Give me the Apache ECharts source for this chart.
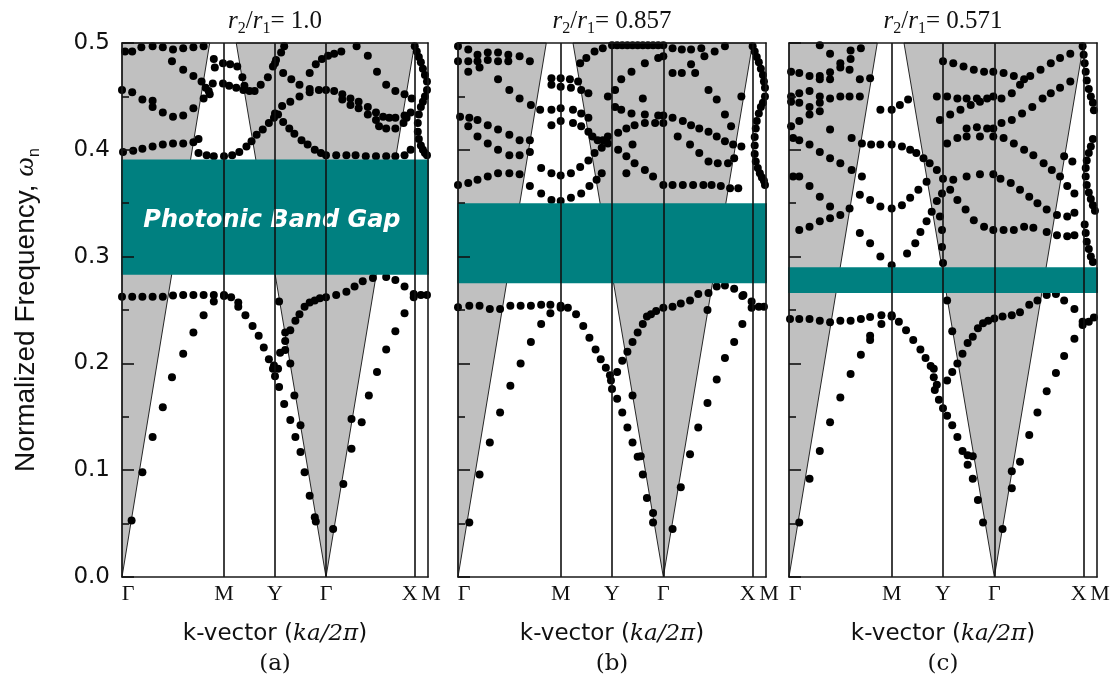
<!DOCTYPE html>
<html><head><meta charset="utf-8">
<script src="https://cdn.jsdelivr.net/npm/echarts@6/dist/echarts.min.js"></script>
<style>html,body{margin:0;padding:0;background:#fff}#c{width:1116px;height:686px}</style>
</head><body><div id="c"></div><script>
// ---------- axes / labels ----------
const kTickValues = [0, 1, 1.5, 2, 2.87, 3];
const kTickLabels = ['Γ', 'M', 'Y', 'Γ', 'X', 'M'];
const symmetryLines = [1, 1.5, 2, 2.87];
const ratioLabels = ['1.0', '0.857', '0.571'];
const panelLetters = ['(a)', '(b)', '(c)'];
const gapLow = [0.283, 0.275, 0.266];
const gapHigh = [0.391, 0.350, 0.290];
const gapText = ['Photonic Band Gap', '', ''];
const gapTextPos = [1.47, 0.334];
// light cone polygons (k-path units, normalized frequency)
const lightConeLeft = [[0, 0], [0.86, 0.5], [0, 0.5]];
const lightConeMid = [[2, 0], [1.12, 0.5], [2.87, 0.5]];

// ---------- panel (a) r2/r1 = 1.0 ----------
const a_low1 = [[0.094,0.053],[0.2,0.098],[0.3,0.131],[0.4,0.159],[0.49,0.187],[0.6,0.209],[0.7,0.229],[0.8,0.245],[0.9,0.258],[1.0,0.263],[1.07,0.262],[1.14,0.253],[1.21,0.245],[1.28,0.235],[1.34,0.226],[1.39,0.215],[1.44,0.204],[1.48,0.195],[1.5,0.188],[1.54,0.178],[1.59,0.162],[1.65,0.147],[1.7,0.131],[1.75,0.117],[1.79,0.098],[1.84,0.076],[1.89,0.056],[1.9,0.052],[2.07,0.045],[2.17,0.087],[2.25,0.12],[2.25,0.148],[2.35,0.145],[2.42,0.17],[2.5,0.192],[2.59,0.213],[2.68,0.23],[2.77,0.247],[2.86,0.262],[2.93,0.264],[2.99,0.264]];
const a_low2 = [[0,0.2625],[0.1,0.2625],[0.2,0.2625],[0.3,0.2625],[0.4,0.2625],[0.5,0.2635],[0.6,0.264],[0.7,0.264],[0.8,0.264],[0.9,0.264],[1.0,0.264],[1.14,0.257],[1.55,0.21],[1.6,0.221],[1.65,0.231],[1.7,0.24],[1.74,0.246],[1.79,0.253],[1.84,0.257],[1.89,0.259],[1.94,0.261],[2.0,0.262],[2.1,0.264],[2.2,0.267],[2.28,0.272],[2.36,0.277],[2.46,0.28],[2.59,0.281],[2.68,0.278],[2.77,0.272],[2.86,0.265]];
const a_low3 = [[1.54,0.258],[1.6,0.229],[1.6,0.2125],[1.65,0.2],[1.69,0.17],[1.75,0.142],[1.49,0.198],[1.53,0.195]];
const a_up1 = [[0.03,0.492],[0.1,0.492],[0.19,0.496],[0.3,0.497],[0.4,0.496],[0.5,0.494],[0.6,0.495],[0.7,0.496],[0.8,0.497]];
const a_up2 = [[0.49,0.483],[0.6,0.475],[0.7,0.469],[0.78,0.464],[0.82,0.458],[0.86,0.452]];
const a_up3 = [[0.0,0.456],[0.1,0.454],[0.2,0.447],[0.3,0.446],[0.3,0.44],[0.4,0.435],[0.5,0.431],[0.6,0.432],[0.7,0.439],[0.8,0.448],[0.85,0.455]];
const a_up4 = [[0.01,0.398],[0.11,0.399],[0.2,0.401],[0.3,0.403],[0.4,0.405],[0.5,0.406],[0.6,0.406],[0.7,0.407],[0.75,0.41]];
const a_up5 = [[0.75,0.397],[0.83,0.395],[0.9,0.394],[1.0,0.394],[1.08,0.395],[1.15,0.398],[1.22,0.403],[1.27,0.408],[1.32,0.414],[1.38,0.419],[1.44,0.425],[1.49,0.43]];
const a_up6 = [[1.5,0.434],[1.57,0.441],[1.65,0.445],[1.74,0.45],[1.84,0.454],[1.93,0.456],[2.0,0.456]];
const a_up7 = [[1.53,0.433],[1.58,0.426],[1.64,0.42],[1.69,0.415],[1.76,0.409],[1.82,0.405],[1.89,0.4],[1.95,0.397],[2.0,0.395]];
const a_up8 = [[2.1,0.395],[2.2,0.395],[2.29,0.395],[2.39,0.394],[2.49,0.394],[2.59,0.394],[2.68,0.394],[2.77,0.395],[2.83,0.4]];
const a_up9 = [[1.5,0.481],[1.58,0.472],[1.66,0.466],[1.74,0.461],[1.84,0.457]];
const a_up10 = [[2.08,0.455],[2.16,0.452],[2.24,0.448],[2.32,0.445],[2.41,0.44],[2.49,0.435],[2.56,0.431],[2.62,0.43],[2.68,0.43],[2.77,0.432],[2.83,0.435]];
const a_up11 = [[2.16,0.447],[2.24,0.442],[2.32,0.439],[2.41,0.433],[2.49,0.428],[2.52,0.422],[2.59,0.42],[2.68,0.42],[2.76,0.425],[2.79,0.43]];
const a_up12 = [[2.3,0.497],[2.41,0.488],[2.5,0.473],[2.59,0.461],[2.68,0.455],[2.77,0.452],[2.84,0.448]];
const a_up13 = [[1.3,0.455],[1.36,0.461],[1.43,0.468],[1.48,0.478],[1.51,0.484],[1.56,0.491],[1.59,0.497]];
const a_up14 = [[0.9,0.485],[0.91,0.477],[0.99,0.481],[1.06,0.48],[1.13,0.478],[1.18,0.468],[1.2,0.46]];
const a_up15 = [[0.89,0.462],[0.99,0.462],[1.05,0.46],[1.12,0.458],[1.19,0.456],[1.25,0.455]];
const a_up16 = [[1.84,0.472],[1.9,0.48],[1.96,0.485],[2.02,0.488],[2.08,0.49],[2.15,0.492]];
const a_up17 = [[2.87,0.497],[2.89,0.492],[2.91,0.487],[2.93,0.482],[2.95,0.476],[2.97,0.47],[2.99,0.464],[2.99,0.456],[2.97,0.45],[2.95,0.445],[2.93,0.44],[2.91,0.433],[2.9,0.425],[2.9,0.417],[2.91,0.41],[2.93,0.404],[2.95,0.4],[2.97,0.397],[2.99,0.395]];
const panelA = [a_low1, a_low2, a_low3, a_up1, a_up2, a_up3, a_up4, a_up5, a_up6, a_up7, a_up8, a_up9, a_up10, a_up11, a_up12, a_up13, a_up14, a_up15, a_up16, a_up17];

// ---------- panel (b) r2/r1 = 0.857 ----------
const b_low1 = [[0.11,0.051],[0.21,0.096],[0.31,0.126],[0.41,0.154],[0.51,0.179],[0.61,0.2],[0.71,0.22],[0.81,0.237],[0.9,0.247],[1.0,0.252],[1.07,0.252],[1.15,0.246],[1.22,0.235],[1.28,0.224],[1.34,0.213],[1.39,0.204],[1.44,0.196],[1.48,0.189],[1.49,0.184],[1.5,0.176],[1.55,0.167],[1.6,0.154],[1.65,0.14],[1.7,0.126],[1.75,0.1125],[1.8,0.096],[1.84,0.074],[1.9,0.06],[1.9,0.051],[2.09,0.045],[2.17,0.084],[2.26,0.115],[2.34,0.14],[2.43,0.163],[2.52,0.185],[2.6,0.205],[2.69,0.22],[2.77,0.237],[2.86,0.252],[2.93,0.253],[2.98,0.253]];
const b_low2 = [[0,0.2525],[0.11,0.254],[0.21,0.254],[0.31,0.251],[0.41,0.251],[0.51,0.254],[0.61,0.254],[0.71,0.254],[0.81,0.255],[0.9,0.255],[1.0,0.254],[1.55,0.192],[1.6,0.2025],[1.65,0.211],[1.7,0.22],[1.75,0.229],[1.8,0.237],[1.84,0.244],[1.88,0.246],[1.93,0.249],[2.0,0.252],[2.09,0.253],[2.17,0.256],[2.26,0.259],[2.34,0.265],[2.44,0.266],[2.52,0.272],[2.6,0.273],[2.69,0.27],[2.78,0.264],[2.86,0.258]];
const b_low3 = [[1.7,0.17],[1.78,0.113],[2.43,0.25],[2.77,0.263]];
const b_up1 = [[0,0.497],[0.1,0.494],[0.19,0.489],[0.29,0.491],[0.39,0.491],[0.49,0.489],[0.6,0.4875],[0.7,0.483]];
const b_up2 = [[0,0.483],[0.1,0.483],[0.19,0.483],[0.29,0.484],[0.39,0.483],[0.49,0.483]];
const b_up3 = [[0.1,0.473],[0.21,0.477],[0.39,0.466],[0.5,0.456],[0.6,0.448],[0.71,0.442],[0.8,0.4375],[0.91,0.4375],[1.0,0.439],[1.12,0.4375],[1.2,0.434],[1.27,0.43]];
const b_up4 = [[0.02,0.431],[0.11,0.43],[0.19,0.428],[0.29,0.423],[0.39,0.419],[0.5,0.414],[0.6,0.409],[0.7,0.409]];
const b_up5 = [[0.1,0.422],[0.19,0.4125],[0.29,0.406],[0.39,0.4],[0.5,0.395],[0.6,0.395],[0.7,0.398]];
const b_up6 = [[0,0.367],[0.1,0.369],[0.19,0.372],[0.29,0.375],[0.39,0.378],[0.5,0.378],[0.6,0.377]];
const b_up7 = [[0.7,0.366],[0.81,0.359],[0.91,0.353],[1.0,0.352],[1.1,0.355],[1.2,0.359],[1.28,0.366],[1.35,0.372],[1.4,0.378]];
const b_up8 = [[0.81,0.383],[0.91,0.378],[1.0,0.376],[1.1,0.378],[1.19,0.384],[1.27,0.39],[1.33,0.397],[1.4,0.402],[1.46,0.406]];
const b_up9 = [[0.91,0.423],[1.0,0.427],[1.12,0.425],[1.2,0.422],[1.27,0.417],[1.31,0.4125],[1.36,0.409],[1.41,0.409],[1.46,0.4125]];
const b_up10 = [[0.91,0.461],[1.0,0.459],[1.1,0.458],[1.2,0.456],[1.27,0.453]];
const b_up11 = [[0.91,0.467],[1.0,0.467],[1.09,0.466],[1.17,0.464]];
const b_up12 = [[1.56,0.416],[1.64,0.42],[1.72,0.423],[1.82,0.425],[1.92,0.425],[2.0,0.425]];
const b_up13 = [[1.56,0.4],[1.64,0.394],[1.72,0.3875],[1.82,0.381],[1.9,0.375],[2.0,0.367]];
const b_up14 = [[1.46,0.45],[1.53,0.456],[1.59,0.466],[1.69,0.473],[1.82,0.481],[1.95,0.486],[2.0,0.4875]];
const b_up15 = [[1.53,0.44],[1.59,0.4375],[1.69,0.434],[1.82,0.433],[1.95,0.432],[2.0,0.432]];
const b_up16 = [[1.5,0.498],[1.55,0.498],[1.6,0.498],[1.65,0.498],[1.7,0.498],[1.75,0.498],[1.8,0.498],[1.85,0.498],[1.9,0.498],[1.95,0.498],[2.0,0.498]];
const b_up17 = [[1.19,0.481],[1.25,0.486],[1.33,0.492],[1.41,0.495]];
const b_up18 = [[2.09,0.367],[2.19,0.367],[2.29,0.367],[2.39,0.367],[2.47,0.367],[2.56,0.366],[2.65,0.364],[2.73,0.364]];
const b_up19 = [[2.14,0.4125],[2.26,0.405],[2.35,0.397],[2.44,0.389],[2.53,0.3875],[2.63,0.3875],[2.69,0.392]];
const b_up20 = [[2.09,0.43],[2.19,0.427],[2.27,0.423],[2.35,0.42],[2.44,0.417],[2.52,0.4125],[2.6,0.408],[2.68,0.405],[2.76,0.403]];
const b_up21 = [[2.09,0.472],[2.18,0.472],[2.27,0.48],[2.4,0.4875],[2.5,0.492],[2.6,0.497]];
const b_up22 = [[2.09,0.495],[2.18,0.494],[2.27,0.494],[2.37,0.495]];
const b_up23 = [[2.31,0.472],[2.44,0.456],[2.52,0.447],[2.6,0.433],[2.66,0.422]];
const b_up24 = [[2.87,0.497],[2.89,0.492],[2.91,0.487],[2.93,0.482],[2.95,0.476],[2.97,0.47],[2.98,0.464],[2.99,0.458],[2.99,0.45],[2.97,0.444],[2.95,0.44],[2.93,0.434],[2.91,0.427],[2.9,0.42],[2.89,0.412],[2.89,0.404],[2.89,0.396],[2.9,0.389],[2.92,0.383],[2.94,0.378],[2.96,0.374],[2.98,0.371],[2.99,0.367]];
const b_up25 = [[1.64,0.378],[1.7,0.405],[1.8,0.448],[2.76,0.45]];
const panelB = [b_low1, b_low2, b_low3, b_up1, b_up2, b_up3, b_up4, b_up5, b_up6, b_up7, b_up8, b_up9, b_up10, b_up11, b_up12, b_up13, b_up14, b_up15, b_up16, b_up17, b_up18, b_up19, b_up20, b_up21, b_up22, b_up23, b_up24, b_up25];

// ---------- panel (c) r2/r1 = 0.571 ----------
const c_low1 = [[0.1,0.051],[0.2,0.092],[0.3,0.118],[0.4,0.145],[0.5,0.168],[0.6,0.19],[0.7,0.208],[0.79,0.222],[0.79,0.226],[0.9,0.237],[1.0,0.244],[1.07,0.239],[1.14,0.231],[1.21,0.222],[1.28,0.213],[1.33,0.205],[1.38,0.1975],[1.41,0.187],[1.42,0.175],[1.46,0.166],[1.5,0.158],[1.54,0.151],[1.59,0.142],[1.64,0.131],[1.69,0.118],[1.74,0.105],[1.79,0.092],[1.84,0.072],[1.89,0.051],[2.08,0.045],[2.17,0.083],[2.17,0.099],[2.25,0.108],[2.34,0.133],[2.42,0.154],[2.51,0.174],[2.6,0.191],[2.68,0.207],[2.78,0.223],[2.86,0.236],[2.92,0.239],[2.97,0.243]];
const c_low2 = [[0.01,0.2415],[0.1,0.2415],[0.2,0.2415],[0.3,0.24],[0.4,0.2385],[0.5,0.24],[0.6,0.24],[0.7,0.2415],[0.79,0.2435],[0.9,0.245],[1.0,0.245],[1.54,0.184],[1.59,0.192],[1.64,0.2],[1.69,0.209],[1.74,0.219],[1.79,0.225],[1.84,0.233],[1.89,0.2375],[1.94,0.24],[2.0,0.242],[2.08,0.244],[2.17,0.245],[2.25,0.248],[2.34,0.255],[2.42,0.259],[2.51,0.264],[2.6,0.265],[2.68,0.259],[2.78,0.251],[2.86,0.239]];
const c_low3 = [[1.54,0.259],[1.59,0.23],[1.74,0.114],[1.79,0.113],[1.41,0.195],[1.44,0.18]];
const c_up1 = [[0.3,0.498],[0.4,0.49],[0.5,0.481],[0.6,0.485],[0.6,0.493],[0.7,0.495]];
const c_up2 = [[0.02,0.473],[0.1,0.472],[0.2,0.469],[0.3,0.469],[0.4,0.4725],[0.5,0.477]];
const c_up3 = [[0.3,0.466],[0.4,0.466],[0.59,0.475],[0.69,0.466],[0.79,0.467]];
const c_up4 = [[0.02,0.45],[0.1,0.453],[0.2,0.455],[0.3,0.45],[0.4,0.448],[0.5,0.45],[0.59,0.45],[0.69,0.45]];
const c_up5 = [[0.02,0.445],[0.1,0.444],[0.2,0.44],[0.3,0.444],[0.2,0.433],[0.3,0.436]];
const c_up6 = [[0.1,0.427],[0.02,0.422],[0.4,0.419]];
const c_up7 = [[0.04,0.411],[0.1,0.409],[0.2,0.405],[0.3,0.398],[0.4,0.392],[0.5,0.3875],[0.61,0.381],[0.71,0.375]];
const c_up8 = [[0.61,0.411],[0.71,0.406],[0.8,0.405],[0.89,0.405],[1.0,0.405],[1.1,0.403],[1.18,0.4],[1.24,0.397],[1.31,0.392],[1.37,0.3875],[1.44,0.381],[1.5,0.373]];
const c_up9 = [[0.04,0.375],[0.1,0.375],[0.2,0.366],[0.3,0.356],[0.4,0.347]];
const c_up10 = [[0.1,0.325],[0.2,0.328],[0.3,0.333],[0.4,0.336],[0.5,0.339],[0.59,0.345],[0.69,0.358]];
const c_up11 = [[0.79,0.353],[0.89,0.347],[1.0,0.345],[1.1,0.348],[1.18,0.355],[1.26,0.3625],[1.34,0.37]];
const c_up12 = [[0.69,0.322],[0.79,0.3125],[0.89,0.3],[1.0,0.292]];
const c_up13 = [[1.15,0.303],[1.23,0.3125],[1.28,0.323],[1.34,0.333],[1.39,0.342],[1.44,0.352],[1.49,0.359]];
const c_up14 = [[0.89,0.4375],[1.0,0.4375],[1.08,0.442],[1.16,0.447]];
const c_up15 = [[1.5,0.483],[1.6,0.481],[1.7,0.478],[1.8,0.475],[1.9,0.473],[1.99,0.473]];
const c_up16 = [[1.44,0.45],[1.54,0.45],[1.64,0.448],[1.73,0.448],[1.83,0.448],[1.93,0.448],[1.99,0.45]];
const c_up17 = [[1.47,0.428],[1.57,0.433],[1.67,0.4375],[1.77,0.442],[1.86,0.445]];
const c_up18 = [[1.73,0.42],[1.83,0.421],[1.93,0.42],[1.99,0.42]];
const c_up19 = [[1.54,0.406],[1.64,0.411],[1.73,0.4125],[1.86,0.4125],[1.99,0.4125]];
const c_up20 = [[1.6,0.372],[1.73,0.375],[1.86,0.377],[1.99,0.377]];
const c_up21 = [[1.57,0.3625],[1.64,0.353],[1.72,0.344],[1.8,0.334],[1.9,0.328],[1.99,0.325]];
const c_up22 = [[1.47,0.3375],[1.49,0.325],[1.49,0.309],[1.5,0.294]];
const c_up23 = [[2.09,0.325],[2.19,0.325],[2.29,0.328],[2.38,0.327],[2.51,0.323],[2.61,0.32],[2.71,0.319],[2.78,0.32]];
const c_up24 = [[2.06,0.373],[2.16,0.369],[2.25,0.3625],[2.34,0.356],[2.42,0.35],[2.51,0.344],[2.61,0.339],[2.71,0.3375],[2.78,0.341]];
const c_up25 = [[2.09,0.411],[2.19,0.406],[2.29,0.4],[2.38,0.395],[2.48,0.3875],[2.56,0.381],[2.64,0.375],[2.71,0.366],[2.78,0.359]];
const c_up26 = [[2.07,0.425],[2.17,0.428],[2.27,0.434],[2.37,0.44],[2.47,0.448],[2.55,0.453],[2.64,0.458],[2.74,0.464]];
const c_up27 = [[2.07,0.448],[2.17,0.453],[2.25,0.461],[2.35,0.469],[2.45,0.475],[2.55,0.481],[2.64,0.486],[2.74,0.49]];
const c_up28 = [[2.09,0.472],[2.19,0.469],[2.29,0.466],[2.68,0.394],[2.76,0.389]];
const c_up29 = [[2.86,0.497],[2.87,0.489],[2.88,0.481],[2.89,0.473],[2.9,0.465],[2.92,0.457],[2.94,0.45],[2.96,0.444],[2.97,0.437],[2.96,0.41],[2.94,0.403],[2.92,0.397],[2.9,0.39],[2.89,0.383],[2.89,0.375],[2.9,0.367],[2.92,0.36],[2.94,0.354],[2.96,0.348],[2.98,0.343],[2.88,0.33],[2.89,0.322],[2.9,0.314],[2.92,0.307],[2.94,0.3],[2.96,0.295]];
const panelC = [c_low1, c_low2, c_low3, c_up1, c_up2, c_up3, c_up4, c_up5, c_up6, c_up7, c_up8, c_up9, c_up10, c_up11, c_up12, c_up13, c_up14, c_up15, c_up16, c_up17, c_up18, c_up19, c_up20, c_up21, c_up22, c_up23, c_up24, c_up25, c_up26, c_up27, c_up28, c_up29];

const panels = [panelA, panelB, panelC];

// ---------- layout ----------
const gridLefts = [122, 458, 789];
const gridWidths = [306, 308, 308];
const serif = 'Liberation Serif';

const chart = echarts.init(document.getElementById('c'), null, {renderer: 'canvas'});
const grids = [], xAxes = [], yAxes = [], series = [];
const frameLine = () => ({show: true, onZero: false, lineStyle: {color: '#1a1a1a', width: 1.6}});

panels.forEach((bands, i) => {
  grids.push({left: gridLefts[i], width: gridWidths[i], top: 43, height: 534});
  xAxes.push({
    gridIndex: i, type: 'value', min: 0, max: 3, position: 'bottom', z: 10,
    axisLine: frameLine(), axisTick: {show: false}, splitLine: {show: false},
    axisLabel: {
      customValues: kTickValues, margin: 6, color: '#111',
      formatter: (v) => {
        const k = kTickValues.indexOf(v);
        const key = k === 0 ? 'f' : (k === 4 ? 'x' : (k === 5 ? 'l' : 'g'));
        return '{' + key + '|' + kTickLabels[k] + '}';
      },
      rich: {
        g: {fontFamily: serif, fontSize: 22, color: '#111'},
        f: {fontFamily: serif, fontSize: 22, color: '#111', padding: [0, 0, 0, 12]},
        x: {fontFamily: serif, fontSize: 22, color: '#111', padding: [0, 10, 0, 0]},
        l: {fontFamily: serif, fontSize: 22, color: '#111', padding: [0, 0, 0, 6]}
      }
    },
    name: '{n|k-vector (}{i|ka/2π}{n|)}\n{l|' + panelLetters[i] + '}',
    nameLocation: 'middle', nameGap: 43,
    nameTextStyle: {
      rich: {
        n: {fontFamily: 'DejaVu Sans', fontSize: 23, color: '#111', lineHeight: 28},
        i: {fontFamily: 'DejaVu Serif', fontStyle: 'italic', fontSize: 23, color: '#111', lineHeight: 28},
        l: {fontFamily: 'DejaVu Serif', fontSize: 23, color: '#111', lineHeight: 32}
      }
    }
  });
  xAxes.push({
    gridIndex: i, type: 'value', min: 0, max: 3, position: 'top', z: 10,
    axisLine: frameLine(), axisTick: {show: false}, axisLabel: {show: false}, splitLine: {show: false},
    name: '{r|r}{s|2}{n|/}{r|r}{s|1}{n|= ' + ratioLabels[i] + '}',
    nameLocation: 'middle', nameGap: 6,
    nameTextStyle: {
      rich: {
        r: {fontFamily: serif, fontStyle: 'italic', fontSize: 25, color: '#111', lineHeight: 32, verticalAlign: 'middle'},
        n: {fontFamily: serif, fontSize: 25, color: '#111', lineHeight: 32, verticalAlign: 'middle'},
        s: {fontFamily: serif, fontSize: 16, color: '#111', lineHeight: 16, verticalAlign: 'bottom'}
      }
    }
  });
  yAxes.push({
    gridIndex: i, type: 'value', min: 0, max: 0.5, interval: 0.1, position: 'left', z: 10,
    axisLine: frameLine(),
    axisTick: {show: true, inside: true, length: 12, lineStyle: {color: '#111', width: 1.6}},
    minorTick: {show: true, splitNumber: 2, length: 7, lineStyle: {color: '#111', width: 1.6}},
    splitLine: {show: false}, minorSplitLine: {show: false},
    axisLabel: {show: i === 0, margin: 12, formatter: (v) => v.toFixed(1), fontFamily: 'DejaVu Sans', fontSize: 23, color: '#111'},
    name: i === 0 ? '{t|Normalized Frequency, }{w|ω}{s|n}' : '',
    nameLocation: 'middle', nameGap: 79,
    nameTextStyle: {
      rich: {
        t: {fontFamily: 'Liberation Sans', fontSize: 28, color: '#111', lineHeight: 34, verticalAlign: 'middle'},
        w: {fontFamily: serif, fontStyle: 'italic', fontSize: 28, color: '#111', lineHeight: 34, verticalAlign: 'middle'},
        s: {fontFamily: 'Liberation Sans', fontSize: 16, color: '#111', lineHeight: 16, verticalAlign: 'bottom'}
      }
    }
  });
  yAxes.push({
    gridIndex: i, type: 'value', min: 0, max: 0.5, position: 'right', z: 10,
    axisLine: frameLine(), axisTick: {show: false}, axisLabel: {show: false}, splitLine: {show: false}
  });

  const xi = 2 * i, yi = 2 * i;
  const cones = [lightConeLeft, lightConeMid];
  // light cone (gray) polygons
  series.push({
    type: 'custom', xAxisIndex: xi, yAxisIndex: yi, z: 1, silent: true, animation: false,
    data: cones.map((c) => [c[0][0], c[0][1]]),
    renderItem: (params, api) => {
      const poly = cones[params.dataIndex];
      return {type: 'polygon', shape: {points: poly.map(p => api.coord(p))},
        style: {fill: '#c0c0c0', stroke: '#111', lineWidth: 0.9}};
    }
  });
  // symmetry-point vertical lines
  series.push({
    type: 'line', xAxisIndex: xi, yAxisIndex: yi, z: 2, data: [], silent: true, animation: false,
    markLine: {
      silent: true, symbol: ['none', 'none'], animation: false, label: {show: false},
      lineStyle: {color: '#111', width: 1.6, type: 'solid'},
      data: symmetryLines.map(v => ({xAxis: v}))
    }
  });
  // band points
  series.push({
    type: 'scatter', xAxisIndex: xi, yAxisIndex: yi, z: 3, animation: false, silent: true,
    symbol: 'circle', symbolSize: 8, itemStyle: {color: '#000', opacity: 1},
    data: [].concat(...bands)
  });
  // photonic band gap
  series.push({
    type: 'custom', xAxisIndex: xi, yAxisIndex: yi, z: 4, silent: true, animation: false,
    data: [[gapLow[i], gapHigh[i]]],
    encode: {x: -1, y: [0, 1]},
    renderItem: (params, api) => {
      const lo = api.value(0), hi = api.value(1);
      const p0 = api.coord([0, hi]);
      const p1 = api.coord([3, lo]);
      const children = [{type: 'rect', shape: {x: p0[0] - 1, y: p0[1], width: p1[0] - p0[0] + 2, height: p1[1] - p0[1]},
        style: {fill: '#008080'}}];
      if (gapText[i]) {
        const tp = api.coord(gapTextPos);
        children.push({type: 'text', style: {text: gapText[i], x: tp[0], y: tp[1], align: 'center', verticalAlign: 'middle',
          fill: '#fff', fontFamily: 'DejaVu Sans', fontWeight: 'bold', fontStyle: 'italic', fontSize: 24}});
      }
      return {type: 'group', children};
    }
  });
});

chart.setOption({
  backgroundColor: '#fff', animation: false,
  grid: grids, xAxis: xAxes, yAxis: yAxes, series
});
</script></body></html>
